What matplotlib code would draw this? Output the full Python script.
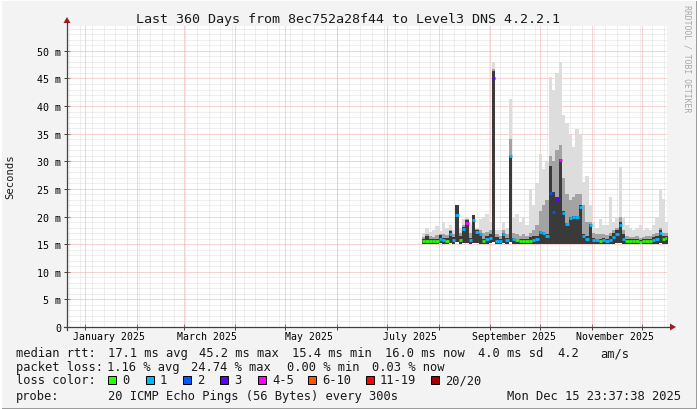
"""
Smokeping style latency chart, last 360 days
"""

import numpy as np
import pandas as pd
import matplotlib
matplotlib.use("Agg")
import matplotlib.pyplot as plt
import matplotlib.dates as mdates
from matplotlib.lines import Line2D
from matplotlib.patches import Rectangle, Polygon

end = pd.Timestamp("2025-12-15 23:37:38")
start = end - pd.Timedelta(days=360)

# sample day offsets since start of the graph
day = [213, 215, 217, 219, 221, 223, 225, 227, 229, 231, 233, 235, 237, 239, 241,
       243, 245, 247, 249, 251, 253, 255, 257, 259, 261, 263, 265, 267, 269, 271,
       273, 275, 277, 279, 281, 283, 285, 287, 289, 291, 293, 295, 297, 299, 301,
       303, 305, 307, 309, 311, 313, 315, 317, 319, 321, 323, 325, 327, 329, 331,
       333, 335, 337, 339, 341, 343, 345, 347, 349, 351, 353, 355, 357, 359]

# median rtt in ms
median_ms = [15.5, 15.6, 15.5, 15.5, 15.6, 16.0, 15.7, 15.6, 16.8, 15.8, 20.2, 15.8, 17.8, 18.8, 15.7,
             19.4, 17.2, 16.8, 15.6, 15.9, 16.1, 45.1, 15.6, 15.6, 16.8, 15.8, 31.0, 15.9, 15.7, 15.5,
             15.6, 15.5, 15.6, 15.8, 16.0, 17.2, 17.0, 16.5, 24.2, 20.8, 23.1, 30.3, 20.6, 18.7, 19.7,
             19.9, 19.9, 21.7, 16.5, 16.0, 18.4, 15.7, 15.7, 15.6, 15.7, 15.6, 15.8, 16.3, 16.8, 18.4,
             16.0, 15.5, 15.5, 15.5, 15.5, 15.4, 15.5, 15.6, 15.5, 15.8, 16.0, 17.0, 16.0, 16.2]

# index into loss classes
loss_idx = [0, 0, 0, 0, 0, 1, 1, 0, 1, 1, 1, 0, 1, 4, 1,
            1, 1, 1, 0, 1, 1, 3, 1, 1, 1, 1, 1, 1, 0, 0,
            0, 0, 0, 1, 1, 1, 1, 1, 2, 2, 3, 4, 1, 1, 1,
            1, 1, 1, 1, 1, 1, 1, 1, 0, 1, 1, 1, 1, 1, 1,
            1, 0, 0, 0, 0, 0, 0, 0, 0, 1, 1, 1, 0, 0]

# smoke bands (ms)
smoke_lo = [15.1, 15.1, 15.1, 15.1, 15.1, 15.2, 15.1, 15.1, 15.2, 15.1, 15.3, 15.1, 15.2, 15.2, 15.1,
            15.2, 15.2, 15.1, 15.1, 15.1, 15.2, 15.3, 15.1, 15.1, 15.2, 15.1, 15.3, 15.1, 15.1, 15.1,
            15.1, 15.1, 15.1, 15.1, 15.1, 15.0, 15.0, 15.0, 15.0, 15.0, 15.0, 15.0, 15.0, 15.0, 15.0,
            15.0, 15.0, 15.0, 15.1, 15.1, 15.1, 15.1, 15.1, 15.1, 15.1, 15.1, 15.1, 15.1, 15.2, 15.2,
            15.1, 15.1, 15.1, 15.1, 15.1, 15.0, 15.1, 15.1, 15.1, 15.1, 15.1, 15.2, 15.1, 15.1]
smoke_dark = [15.9, 16.5, 16.0, 15.9, 16.0, 16.6, 16.2, 16.2, 17.3, 16.3, 22.0, 16.5, 18.1, 19.3, 16.2,
              20.2, 17.5, 17.0, 16.0, 16.5, 16.8, 46.4, 16.3, 16.0, 17.0, 16.2, 31.0, 16.2, 16.0, 16.0,
              16.0, 16.0, 16.3, 16.5, 16.4, 17.4, 17.2, 16.8, 29.2, 24.5, 23.5, 30.5, 21.0, 18.9, 19.9,
              20.1, 20.1, 22.0, 16.8, 16.4, 18.6, 16.2, 16.0, 16.0, 16.2, 16.0, 16.5, 17.0, 17.5, 19.0,
              16.8, 16.0, 15.9, 15.9, 16.0, 15.8, 15.9, 16.0, 16.0, 16.3, 16.5, 17.5, 16.5, 16.5]
smoke_mid = [16.3, 16.8, 16.5, 16.3, 16.6, 16.9, 16.8, 16.7, 17.6, 16.8, 22.0, 17.0, 18.5, 19.5, 17.0,
             20.2, 17.8, 17.5, 17.0, 17.2, 17.5, 46.8, 16.8, 16.5, 17.5, 16.8, 34.0, 17.0, 16.8, 16.5,
             16.8, 16.5, 17.0, 17.5, 18.5, 21.0, 22.0, 23.0, 31.0, 30.0, 32.0, 33.0, 27.0, 24.0, 23.0,
             23.5, 24.0, 24.0, 22.0, 19.0, 19.0, 17.0, 16.8, 16.8, 16.8, 16.6, 17.0, 17.5, 18.0, 20.0,
             17.5, 16.5, 16.3, 16.3, 16.5, 16.2, 16.3, 16.5, 16.4, 16.8, 17.0, 18.0, 17.0, 17.0]
smoke_hi = [17.0, 18.0, 17.2, 17.5, 18.2, 17.4, 19.0, 18.0, 18.5, 17.5, 22.0, 18.0, 19.5, 19.8, 18.5,
            20.2, 18.0, 19.5, 20.0, 20.5, 19.0, 47.9, 17.5, 17.5, 19.0, 18.0, 41.3, 20.0, 20.5, 19.0,
            20.0, 18.4, 25.0, 22.0, 26.0, 31.3, 28.6, 30.0, 45.3, 43.0, 46.0, 48.0, 38.3, 37.0, 35.0,
            32.6, 35.9, 35.0, 26.3, 27.4, 22.0, 19.0, 18.0, 19.5, 18.5, 18.5, 23.5, 19.0, 20.0, 29.0,
            20.0, 18.5, 18.0, 17.5, 18.0, 18.5, 17.5, 18.0, 17.5, 18.5, 20.0, 25.0, 23.2, 19.0]

loss_labels = ["0", "1", "2", "3", "4-5", "6-10", "11-19", "20/20"]
loss_colors = ["#26ff00", "#00b8ff", "#0059ff", "#5e00ff", "#ff00ff", "#ff5500", "#ff0000", "#a10000"]

W, H = 697, 410
MONO = "DejaVu Sans Mono"


def fx(x):
    return x / W


def fy(y):
    return 1 - y / H


fig = plt.figure(figsize=(W / 100, H / 100), dpi=100, facecolor="#f3f3f3")
ax = fig.add_axes([fx(67), fy(328), 600 / W, (328 - 27) / H])
ax.set_facecolor("white")

x0 = mdates.date2num(start)
x1 = mdates.date2num(end)
ax.set_xlim(x0, x1)
ax.set_ylim(0, 54.5)

# grid
for v in range(1, 55):
    if v % 5 == 0:
        continue
    ax.axhline(v, color="#dedede", lw=0.72, ls=(0, (1, 1)), zorder=1)
for w in pd.date_range("2024-12-22", end, freq="7D"):
    ax.axvline(mdates.date2num(w), color="#dedede", lw=0.72, ls=(0, (1, 1)), zorder=1)
for v in range(5, 55, 5):
    ax.axhline(v, color="#f0a8a8", lw=0.72, ls=(0, (1, 1)), zorder=2)
for m in pd.date_range("2025-01-01", end, freq="MS"):
    ax.axvline(mdates.date2num(m), color="#f0a8a8", lw=0.72, ls=(0, (1, 1)), zorder=2)

# smoke
xs = x0 + np.array(day, dtype=float)
xe = np.append(xs, xs[-1] + 2)


def ext(a):
    return np.append(np.array(a), a[-1])


ax.fill_between(xe, ext(smoke_lo), ext(smoke_hi), step="post", color="#dddddd", lw=0, zorder=3)
ax.fill_between(xe, ext(smoke_lo), ext(smoke_mid), step="post", color="#a3a3a3", lw=0, zorder=4)
ax.fill_between(xe, ext(smoke_lo), ext(smoke_dark), step="post", color="#3a3a3a", lw=0, zorder=5)

# median coloured by loss
seg_colors = [loss_colors[i] for i in loss_idx]
ax.hlines(median_ms, xs, xs + 2, colors=seg_colors, lw=2.0, zorder=6)

# axes styling
for s in ax.spines.values():
    s.set_visible(False)
yt = list(range(0, 55, 5))
ax.set_yticks(yt)
ax.set_yticklabels(["0"] + [f"{v} m" for v in yt[1:]], fontfamily=MONO, fontsize=7.2)
ax.tick_params(axis="y", direction="inout", length=4, width=0.7, color="#404040", pad=2.2)

label_dates = [pd.Timestamp(f"2025-{mm:02d}-15") for mm in (1, 3, 5, 7, 9, 11)]
label_text = ["January 2025", "March 2025", "May 2025", "July 2025", "September 2025", "November 2025"]
ax.set_xticks([mdates.date2num(d) for d in label_dates])
ax.set_xticklabels(label_text, fontfamily=MONO, fontsize=7.1)
ax.tick_params(axis="x", length=0, pad=3)
ax.set_xticks([mdates.date2num(m) for m in pd.date_range("2025-01-01", end, freq="MS")], minor=True)
ax.tick_params(axis="x", which="minor", direction="inout", length=4, width=0.7, color="#404040")

# axis lines with arrows
axis_c = "#404040"
arrow_c = "#9b1c1c"
fig.add_artist(Line2D([fx(67), fx(67)], [fy(331), fy(24)], color=axis_c, lw=0.9))
fig.add_artist(Line2D([fx(64), fx(670)], [fy(328), fy(328)], color=axis_c, lw=0.9))
fig.add_artist(Polygon([[fx(63.5), fy(24)], [fx(70.5), fy(24)], [fx(67), fy(18)]],
                       closed=True, color=arrow_c, lw=0))
fig.add_artist(Polygon([[fx(670), fy(324.5)], [fx(670), fy(331.5)], [fx(676), fy(328)]],
                       closed=True, color=arrow_c, lw=0))

# titles
fig.text(fx(348), fy(19), "Last 360 Days from 8ec752a28f44 to Level3 DNS 4.2.2.1",
         ha="center", va="center", fontfamily=MONO, fontsize=9.6, color="#1a1a1a")
fig.text(fx(10), fy(177), "Seconds", rotation=90, ha="center", va="center",
         fontfamily=MONO, fontsize=7.6, color="#1a1a1a")
fig.text(fx(687), fy(5), "RRDTOOL / TOBI OETIKER", rotation=-90, ha="center", va="top",
         fontfamily=MONO, fontsize=5.9, color="#a8a8a8")

# legend block
LF = 8.7
tc = "#1a1a1a"


def put(x, y, s, ha="left"):
    fig.text(fx(x), fy(y), s, ha=ha, va="center", fontfamily=MONO, fontsize=LF, color=tc)


put(16, 354, "median rtt:")
for x, s in [(108, "17.1 ms avg"), (199, "45.2 ms max"), (292, "15.4 ms min"),
             (385, "16.0 ms now"), (478, "4.0 ms sd"), (557, "4.2"), (600, "am/s")]:
    put(x, 354, s)

put(16, 368, "packet loss:")
for x, s in [(107, "1.16 % avg"), (191, "24.74 % max"), (287, "0.00 % min"), (372, "0.03 % now")]:
    put(x, 368, s)

put(16, 381, "loss color:")
box_x = [108, 146, 183, 220, 258, 308, 366, 431]
for bx, lab, col in zip(box_x, loss_labels, loss_colors):
    fig.add_artist(Rectangle((fx(bx), fy(385)), 8 / W, 8 / H, transform=fig.transFigure,
                             facecolor=col, edgecolor="black", lw=0.7))
    put(bx + 14, 381, lab)

put(16, 397, "probe:")
put(108, 397, "20 ICMP Echo Pings (56 Bytes) every 300s")
put(681, 397, "Mon Dec 15 23:37:38 2025", ha="right")

# frame
fig.add_artist(Line2D([0, 1], [fy(409.5), fy(409.5)], color="#9a9a9a", lw=1.4))
fig.add_artist(Line2D([fx(696.5), fx(696.5)], [0, 1], color="#9a9a9a", lw=1.4))
fig.add_artist(Line2D([0, 1], [fy(0.5), fy(0.5)], color="#ffffff", lw=1.4))
fig.add_artist(Line2D([fx(0.5), fx(0.5)], [0, 1], color="#ffffff", lw=1.4))

fig.savefig("out.png", dpi=100, facecolor=fig.get_facecolor())
